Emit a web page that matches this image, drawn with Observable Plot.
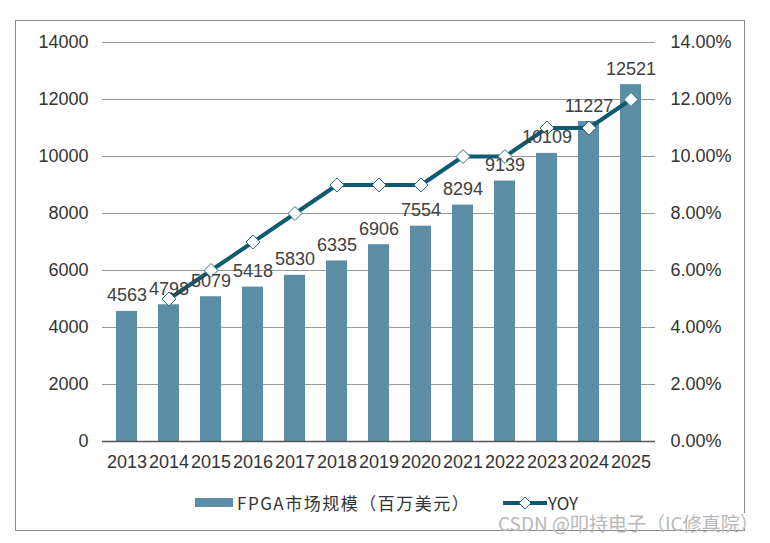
<!DOCTYPE html>
<html><head><meta charset="utf-8">
<script src="https://cdn.jsdelivr.net/npm/d3@7"></script>
<script src="https://cdn.jsdelivr.net/npm/@observablehq/plot@0.6"></script>
<style>
body{margin:0;background:#fff;}
#wrap{position:relative;width:770px;height:543px;overflow:hidden;font-family:"Liberation Sans",Arial,sans-serif;}
#border{position:absolute;left:15px;top:20px;width:728px;height:509px;border:1px solid #8c8c8c;}
#chart{position:absolute;left:0;top:0;}
#legend{position:absolute;top:494px;left:0;width:770px;height:18px;font-family:"Noto Sans CJK SC",sans-serif;font-size:17px;color:#333;}
.sw{position:absolute;white-space:nowrap;}
#wm{position:absolute;left:498px;top:513px;height:15px;line-height:20px;padding-right:6px;background:#fff;font-family:"Noto Sans CJK SC",sans-serif;font-size:19px;color:#b8b8b8;white-space:nowrap;}
</style></head><body>
<div id="wrap"><div id="border"></div><div id="chart"></div>
<div id="legend">
  <div class="sw" style="left:195px;top:4px;width:38px;height:9px;background:#5b8ea6"></div>
  <div class="sw" style="left:237px;top:0px;line-height:18px;letter-spacing:1.5px;">FPGA市场规模（百万美元）</div>
  <svg class="sw" style="left:503px;top:-1px" width="44" height="20"><line x1="0" y1="10" x2="44" y2="10" stroke="#0e5a6e" stroke-width="4"/><path d="M22,4L28,10L22,16L16,10Z" fill="#fff" stroke="#2f6f84" stroke-width="1"/></svg>
  <div class="sw" style="left:548px;top:0px;line-height:18px;">YOY</div>
</div>
<div id="wm">CSDN @叩持电子（IC修真院）</div>
</div>
<script>
const years = ["2013","2014","2015","2016","2017","2018","2019","2020","2021","2022","2023","2024","2025"];
const market = [4563,4798,5079,5418,5830,6335,6906,7554,8294,9139,10109,11227,12521];
const yoyYears = ["2014","2015","2016","2017","2018","2019","2020","2021","2022","2023","2024","2025"];
const yoy = [5,6,7,8,9,9,9,10,10,11,11,12]; // percent
const leftTicks = [0,2000,4000,6000,8000,10000,12000,14000];
const rightTickLabels = ["0.00%","2.00%","4.00%","6.00%","8.00%","10.00%","12.00%","14.00%"];

const bars = years.map((y,i)=>({year:y, value:market[i]}));
const line = yoyYears.map((y,i)=>({year:y, pct:yoy[i]}));
const PCT = 1000; // 1% on right axis == 1000 on left axis

const chart = Plot.plot({
  width:770, height:480,
  marginLeft:102, marginRight:115, marginTop:42, marginBottom:39,
  style:{fontFamily:"'Liberation Sans',Arial,sans-serif", fontSize:"18px", color:"#333", background:"transparent"},
  x:{type:"band", domain:years, paddingInner:0.5, paddingOuter:0.25, label:null},
  y:{domain:[0,14000], label:null},
  marks:[
    Plot.ruleY(leftTicks.slice(1), {stroke:"#9a9a9a", strokeWidth:1}),
    Plot.barY(bars, {x:"year", y:"value", fill:"#5b8ea6"}),
    Plot.ruleY([0], {stroke:"#555", strokeWidth:1.5}),
    Plot.line(line, {x:"year", y:d=>d.pct*PCT, stroke:"#0e5a6e", strokeWidth:4}),
    Plot.dot(line, {x:"year", y:d=>d.pct*PCT, symbol:"diamond2", r:6.3, fill:"#fff", stroke:"#2f6f84", strokeWidth:1}),
    Plot.text(bars, {x:"year", y:"value", text:d=>String(d.value), lineAnchor:"bottom", dy:-10, fill:"#404040", fontSize:18}),
    Plot.axisY(leftTicks, {anchor:"left", tickSize:0, tickPadding:14, tickFormat:d=>String(d), fontSize:18, fill:"#333", label:null}),
    Plot.axisY(leftTicks, {anchor:"right", tickSize:0, tickPadding:15, tickFormat:(d,i)=>rightTickLabels[i], fontSize:18, fill:"#333", label:null}),
    Plot.axisX({tickSize:0, tickPadding:14, fontSize:18, fill:"#333", label:null})
  ]
});
document.getElementById("chart").appendChild(chart);
</script>
</body></html>
